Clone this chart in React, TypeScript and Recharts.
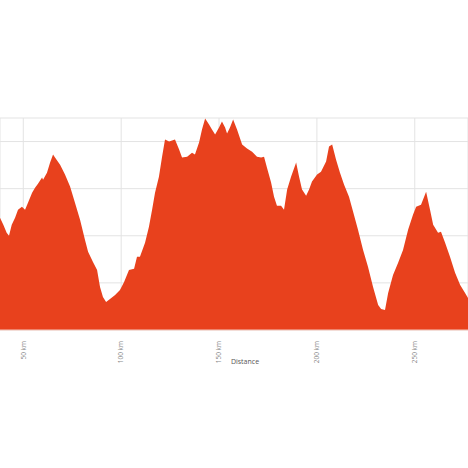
import { AreaChart, Area, XAxis, YAxis, CartesianGrid, Label } from 'recharts'

// distance along the route (km) and elevation (m)
const distanceKm = [
  38.1, 39.8, 41.5, 42.7, 44.1, 45.8, 47.3, 49.3, 50.9, 52.4, 54.5, 56.0, 57.5, 59.6, 60.1, 62.1, 63.7, 65.2, 66.2, 68.8,
  71.3, 73.9, 76.4, 79.0, 81.5, 83.1, 85.6, 87.7, 89.2, 90.7, 92.3, 94.3, 96.9, 99.4, 101.5, 104.0, 106.6, 108.1, 109.6, 112.2,
  114.2, 115.8, 117.3, 119.3, 120.9, 122.4, 124.5, 126.0, 127.5, 129.6, 131.1, 133.7, 136.2, 137.7, 139.8, 141.3, 142.9, 144.9, 146.4, 148.0,
  150.0, 151.5, 153.1, 154.1, 155.6, 157.2, 159.2, 161.8, 164.3, 166.9, 169.4, 171.5, 173.0, 174.5, 176.6, 178.1, 179.6, 181.7, 183.2, 184.8,
  186.8, 189.4, 190.9, 192.4, 194.5, 196.0, 197.5, 200.1, 202.1, 204.7, 206.2, 207.8, 209.8, 211.8, 213.9, 216.4, 218.5, 221.0, 223.6, 226.1,
  228.7, 231.3, 232.8, 234.8, 236.4, 238.9, 241.5, 244.0, 246.6, 249.1, 250.7, 253.2, 255.8, 257.8, 259.4, 261.9, 263.4, 265.5, 268.0, 270.6,
  273.2, 275.7, 277.2,
]
const elevationM = [
  477, 447, 413, 400, 447, 477, 511, 523, 511, 540, 583, 604, 621, 647, 638, 668, 711, 745, 732, 702,
  660, 609, 540, 468, 383, 332, 289, 255, 183, 140, 119, 132, 149, 170, 204, 255, 260, 311, 311, 370,
  438, 511, 583, 651, 736, 809, 800, 804, 809, 766, 732, 736, 753, 745, 796, 851, 898, 872, 851, 830,
  860, 885, 860, 834, 860, 894, 851, 787, 770, 757, 736, 732, 736, 689, 626, 566, 528, 528, 511, 596,
  651, 711, 651, 596, 570, 596, 630, 660, 672, 715, 779, 787, 723, 668, 617, 566, 502, 426, 340, 268,
  183, 106, 89, 85, 157, 234, 285, 340, 426, 489, 523, 532, 587, 511, 447, 413, 417, 370, 311, 243,
  191, 157, 136,
]
const distanceTicks = [50, 100, 150, 200, 250]
const elevationTicks = [0, 200, 400, 600, 800, 900]

const data = distanceKm.map((km, i) => ({ km, ele: elevationM[i] }))

function KmTick({ x, y, payload }: any) {
  return (
    <g transform={`translate(${x},${y})`}>
      <text transform="rotate(-90)" x={-3} y={0} dy="0.35em" textAnchor="end" fontSize={6.5} fill="#888">
        {`${payload.value} km`}
      </text>
    </g>
  )
}

export default function App() {
  return (
    <div style={{ position: 'absolute', left: 0, top: 0, width: 468, height: 468, background: '#fff', fontFamily: '"Open Sans", sans-serif' }}>
      <AreaChart width={468} height={468} data={data} margin={{ top: 118, right: 0, left: 0, bottom: 98 }}>
        <CartesianGrid stroke="#e3e3e3" strokeWidth={1} />
        <XAxis
          dataKey="km"
          type="number"
          domain={[38.1, 277.2]}
          allowDataOverflow
          ticks={distanceTicks}
          tick={<KmTick />}
          tickLine={false}
          axisLine={{ stroke: '#f5c9bd' }}
          height={40}
        >
          <Label value="Distance" position="insideBottom" offset={6} dx={11} fontSize={7} fill="#555" />
        </XAxis>
        <YAxis hide domain={[0, 900]} ticks={elevationTicks} />
        <Area type="linear" dataKey="ele" stroke="none" fill="#e8411d" fillOpacity={1} isAnimationActive={false} />
      </AreaChart>
    </div>
  )
}
